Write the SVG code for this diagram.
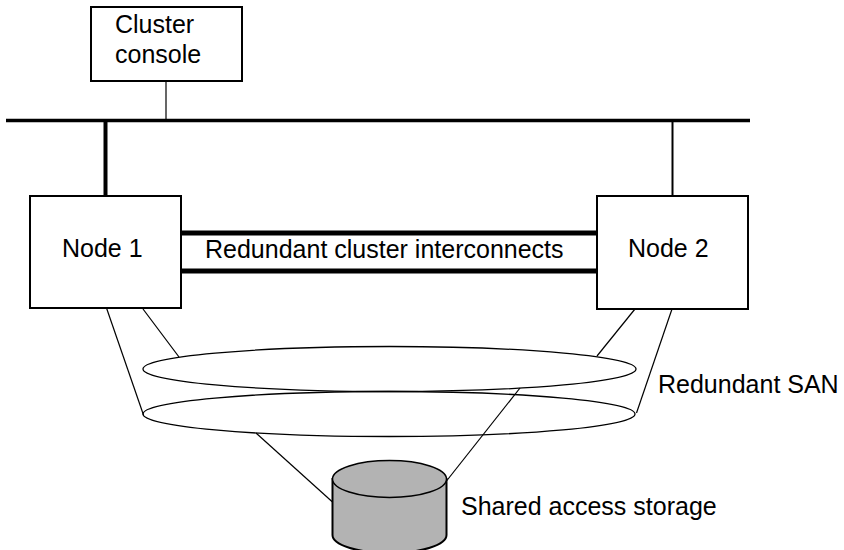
<svg xmlns="http://www.w3.org/2000/svg" width="844" height="550" viewBox="0 0 844 550">
<style>
.box{fill:#fff;stroke:#000;stroke-width:2}
.t{font-family:"Liberation Sans",Arial,sans-serif;font-size:25px;fill:#000}
.thin{stroke:#000;stroke-width:1.2;fill:none}
.san{fill:none;stroke:#000;stroke-width:1.3}
</style>
<rect width="844" height="550" fill="#fff"/>
<g id="connectors">
<line x1="6" y1="120.5" x2="750" y2="120.5" stroke="#000" stroke-width="3.5"/>
<line x1="166" y1="81" x2="166" y2="120" stroke="#000" stroke-width="1.2"/>
<line x1="105.5" y1="121" x2="105.5" y2="196" stroke="#000" stroke-width="4"/>
<line x1="672.5" y1="121" x2="672.5" y2="196" stroke="#000" stroke-width="2"/>
<line x1="181" y1="233" x2="600" y2="233" stroke="#000" stroke-width="5"/>
<line x1="181" y1="271" x2="600" y2="271" stroke="#000" stroke-width="5"/>
<line class="thin" x1="106.5" y1="308" x2="143.5" y2="415"/>
<line class="thin" x1="143" y1="309" x2="179" y2="357"/>
<line class="thin" x1="635" y1="309" x2="597" y2="356"/>
<line class="thin" x1="672" y1="309" x2="636.5" y2="413"/>
<line class="thin" x1="256" y1="433" x2="332.5" y2="502"/>
<line class="thin" x1="520" y1="388" x2="446.5" y2="481"/>
</g>
<g id="san">
<ellipse class="san" cx="389.5" cy="369" rx="246.5" ry="22.5"/>
<ellipse class="san" cx="389" cy="414" rx="246" ry="22.5"/>
<text class="t" x="658" y="393">Redundant SAN</text>
</g>
<g id="console">
<rect class="box" x="91" y="7" width="151" height="74"/>
<text class="t" x="115" y="33">Cluster</text>
<text class="t" x="115" y="63">console</text>
</g>
<g id="node1">
<rect class="box" x="30" y="196" width="151" height="112"/>
<text class="t" x="62" y="257">Node 1</text>
</g>
<g id="node2">
<rect class="box" x="597" y="196" width="151" height="113"/>
<text class="t" x="628" y="257">Node 2</text>
</g>
<g id="interconnect-label">
<text class="t" x="205" y="258">Redundant cluster interconnects</text>
</g>
<g id="storage">
<path d="M332.5,479 L332.5,535 A57,18 0 0 0 446.5,535 L446.5,479 Z" fill="#b3b3b3" stroke="#000" stroke-width="2"/>
<ellipse cx="389.5" cy="479" rx="57" ry="18.5" fill="#b3b3b3" stroke="#000" stroke-width="1.5"/>
<text class="t" x="461" y="515">Shared access storage</text>
</g>
</svg>
